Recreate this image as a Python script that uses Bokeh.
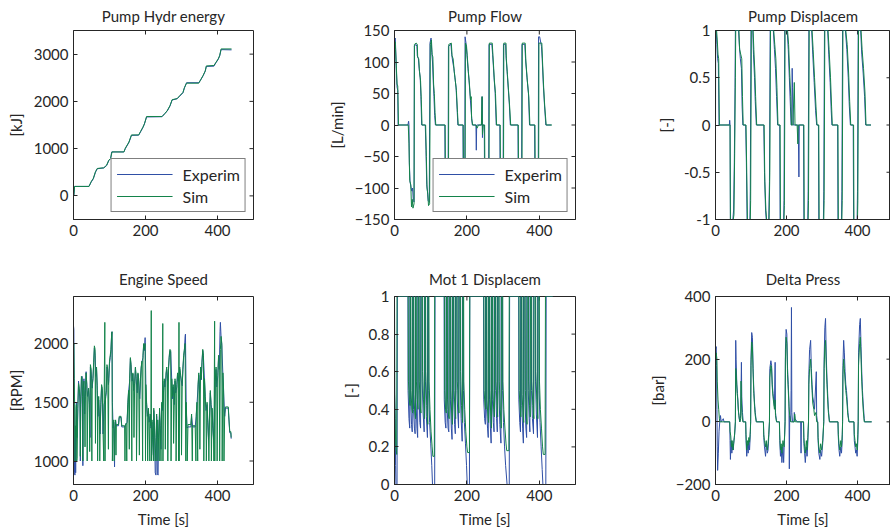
import math
from bokeh.plotting import figure
from bokeh.models import Range1d, FixedTicker, Legend, LegendItem
from bokeh.layouts import row, column
from bokeh.embed import file_html
from bokeh.resources import INLINE

# ---------------- data (time [s], value) ----------------
x_ticks = [0, 200, 400]

energy_exp = [(0,0),(1,10),(3,200),(43,200),(49,290),(55,360),(61,500),(66,575),(84,590),(92,640),(98,745),(103,785),(106,930),(140,930),(144,1000),(154,1130),(161,1280),(181,1285),(186,1350),(193,1450),(197,1520),(203,1670),(246,1675),(253,1740),(260,1790),(268,1900),(274,2030),(288,2055),(295,2110),(304,2180),(308,2280),(314,2395),(348,2395),(353,2450),(360,2540),(366,2640),(369,2740),(390,2745),(396,2820),(402,2890),(406,2960),(410,3095),(439,3090)]
energy_sim = [(0,0),(1,20),(3,200),(43,200),(49,300),(55,370),(61,510),(66,580),(84,595),(92,650),(98,755),(103,790),(107,930),(140,930),(144,1010),(154,1140),(161,1290),(181,1290),(186,1360),(193,1455),(197,1525),(203,1680),(246,1680),(253,1735),(260,1800),(268,1910),(274,2035),(288,2060),(295,2120),(304,2190),(308,2290),(314,2385),(348,2385),(353,2455),(360,2550),(366,2645),(369,2750),(390,2760),(396,2830),(402,2900),(406,2970),(410,3110),(439,3110)]

flow_exp = [(0,0),(0.3,130),(2,138),(3,125),(5,90),(7,60),(9,55),(10,0),(37,0),(39,6),(40,0),(41,-60),(43,-90),(46,-100),(48,-105),(50,-100),(52,-120),(54,-122),(55,125),(59,128),(62,125),(63,110),(66,105),(68,90),(71,75),(73,45),(75,0),(85,0),(87,-40),(89,-95),(91,-105),(93,-120),(96,-122),(98,130),(101,138),(103,115),(105,100),(107,70),(109,45),(111,15),(113,0),(139,0),(140,-110),(148,-120),(149,125),(156,128),(158,112),(161,100),(164,90),(167,75),(170,60),(173,25),(175,0),(189,0),(190,-110),(194,-120),(195,140),(198,128),(200,112),(203,90),(206,70),(209,45),(212,20),(215,0),(225,0),(226,-40),(227,0),(241,0),(242,45),(243,-20),(244,0),(248,0),(249,-110),(260,-120),(261,128),(269,128),(271,112),(273,95),(275,75),(278,52),(281,0),(291,0),(292,-110),(300,-120),(301,128),(307,128),(308,110),(311,85),(314,60),(317,35),(320,0),(341,0),(342,-110),(351,-120),(352,128),(360,128),(362,105),(366,75),(370,50),(373,0),(387,0),(388,-110),(397,-120),(398,140),(401,140),(406,125),(408,105),(411,65),(414,35),(418,0),(433,0)]
flow_sim = [(0,0),(0.5,125),(2,132),(3,120),(5,95),(7,65),(9,62),(11,0),(38,0),(40,-30),(42,-88),(45,-95),(47,-130),(49,-118),(51,-132),(54,-125),(55,128),(60,130),(63,128),(64,108),(67,105),(69,85),(72,70),(74,40),(76,0),(86,0),(88,-50),(90,-100),(92,-110),(94,-128),(97,-125),(99,128),(102,135),(104,112),(106,108),(108,65),(110,50),(112,20),(114,0),(140,0),(141,-120),(149,-125),(150,128),(157,130),(159,110),(162,105),(165,85),(168,70),(171,55),(174,20),(176,0),(190,0),(191,-120),(195,-125),(196,130),(199,125),(201,110),(204,85),(207,65),(210,40),(212,45),(213,10),(216,0),(225,0),(228,-5),(232,0),(240,0),(242,45),(243,-15),(245,0),(249,0),(250,-120),(261,-125),(262,130),(270,130),(272,110),(274,90),(276,70),(279,50),(282,0),(292,0),(293,-120),(301,-125),(302,130),(308,130),(309,105),(312,80),(315,55),(318,30),(321,0),(342,0),(343,-120),(352,-125),(353,130),(361,130),(363,100),(367,70),(371,45),(374,0),(388,0),(389,-120),(398,-125),(399,130),(407,130),(409,100),(412,60),(415,30),(419,0),(435,0)]

pdisp_exp = [(0,0),(0.3,1),(2,1),(4,0.85),(6,0.7),(8,0.65),(10,0),(39,0),(40,0.05),(41,0),(42,-1),(49,-1),(51,-0.9),(53,-0.4),(55,0.4),(56,1),(65,1),(67,0.85),(70,0.7),(73,0.6),(75,0.2),(77,0),(85,0),(87,-0.4),(89,-1),(97,-1),(98,-0.7),(100,1),(105,1),(107,0.75),(110,0.5),(112,0.25),(115,0),(136,0),(138,-0.5),(141,-0.9),(143,-1),(150,-1),(152,-0.6),(154,1),(163,1),(166,0.8),(169,0.6),(172,0.3),(175,0),(181,0),(182,-1),(192,-1),(193,-0.8),(195,1),(202,1),(205,0.8),(208,0.5),(211,0.2),(213,0),(215,0),(216,0.6),(217,0.4),(219,0),(233,0),(235,-0.55),(236,0),(248,0),(249,-1),(260,-1),(261,-0.7),(263,1),(271,1),(274,0.75),(278,0.45),(282,0.15),(285,0),(290,0),(291,-1),(304,-1),(305,-0.7),(307,1),(316,1),(319,0.75),(323,0.45),(326,0.15),(328,0),(344,0),(345,-1),(355,-1),(356,-0.7),(358,1),(366,1),(370,0.8),(374,0.5),(377,0.2),(380,0),(388,0),(389,-1),(399,-1),(400,-0.7),(402,1),(409,1),(412,0.75),(416,0.55),(420,0.3),(423,0),(438,0)]
pdisp_sim = [(0,0),(0.3,1),(3,1),(5,0.9),(7,0.75),(9,0.7),(11,0),(41,0),(42,-1),(50,-1),(52,-0.95),(54,-0.3),(56,0.5),(57,1),(66,1),(68,0.8),(71,0.75),(74,0.7),(76,0.3),(78,0),(86,0),(88,-0.5),(90,-1),(98,-1),(99,-0.8),(101,1),(106,1),(108,0.8),(111,0.55),(113,0.3),(116,0),(137,0),(139,-0.6),(142,-0.9),(144,-1),(151,-1),(153,-0.5),(155,1),(164,1),(167,0.85),(170,0.7),(173,0.4),(176,0),(182,0),(183,-1),(193,-1),(194,-0.85),(196,1),(203,1),(206,0.85),(209,0.55),(212,0.3),(214,0),(218,0),(222,0.45),(224,0),(230,0),(232,-0.2),(233,0),(249,0),(250,-1),(261,-1),(262,-0.8),(264,1),(272,1),(275,0.8),(279,0.5),(283,0.2),(286,0),(291,0),(292,-1),(305,-1),(306,-0.8),(308,1),(317,1),(320,0.8),(324,0.5),(327,0.2),(329,0),(345,0),(346,-1),(356,-1),(357,-0.8),(359,1),(367,1),(371,0.85),(375,0.55),(378,0.25),(381,0),(389,0),(390,-1),(400,-1),(401,-0.8),(403,1),(410,1),(413,0.8),(417,0.6),(421,0.35),(424,0),(438,0)]

speed_exp = [(0,2150),(1,2120),(2,1400),(3,900),(4,880),(5,1200),(6,900),(8,1500),(10,1200),(12,1450),(14,1680),(16,1600),(18,1500),(19,1000),(20,1450),(22,1700),(24,1720),(26,960),(27,1600),(29,1700),(31,1400),(33,1550),(35,1760),(37,1640),(39,1550),(42,1600),(44,1480),(46,1200),(47,1800),(49,1760),(52,1620),(54,1700),(56,1820),(58,1960),(60,1900),(62,1720),(64,1780),(66,1600),(68,1380),(70,1520),(72,1360),(74,1230),(76,1480),(78,1630),(80,1600),(82,1230),(85,1480),(89,1530),(91,1580),(93,1800),(95,1760),(97,1650),(98,1680),(100,1830),(102,1880),(104,1930),(106,2090),(107,2100),(108,1500),(110,1280),(112,1330),(114,950),(115,1260),(117,1340),(119,1300),(125,1300),(127,1370),(132,1370),(134,1290),(142,1290),(145,1310),(149,1330),(151,1480),(153,1590),(156,1680),(158,1870),(160,1800),(163,1680),(165,1740),(167,1600),(170,1660),(172,1790),(174,1700),(177,1580),(179,1740),(181,1680),(184,1530),(186,1680),(188,1790),(190,1840),(193,1880),(195,1990),(197,1940),(199,2050),(201,1640),(203,1480),(205,1380),(208,1430),(210,1330),(213,1380),(215,1280),(218,1330),(220,1180),(222,1050),(223,1430),(225,1280),(227,900),(229,880),(231,1380),(233,890),(235,880),(236,1180),(239,1430),(241,1280),(243,1100),(245,1480),(247,1430),(250,1580),(252,1680),(254,1630),(257,1730),(259,1780),(261,1680),(264,1780),(266,1880),(268,1940),(270,1930),(273,1680),(275,1530),(277,1630),(280,1480),(282,1680),(284,1580),(287,1630),(289,1730),(291,1680),(295,1780),(297,1730),(299,1690),(302,1640),(304,1780),(306,1880),(308,1940),(310,2060),(311,2080),(313,1480),(315,1280),(318,1290),(326,1290),(328,1380),(331,1290),(338,1290),(341,1380),(343,1480),(346,1630),(348,1730),(350,1580),(353,1780),(355,1690),(357,1840),(359,1940),(361,1880),(364,1680),(366,1530),(368,1430),(371,1480),(373,1330),(375,1180),(378,1380),(380,1580),(382,1480),(385,1430),(387,1280),(389,1180),(394,1680),(396,1780),(398,1630),(401,1730),(403,1880),(405,1780),(407,2100),(408,2180),(410,2050),(412,1980),(415,1730),(417,1580),(420,1380),(422,1450),(430,1450),(431,1390),(432,1340),(434,1240),(437,1240),(438,1190)]
speed_sim = [(0,1980),(1,2000),(2,1700),(3,1500),(4,1000),(5,1300),(6,1200),(7,1450),(8,1480),(9,1000),(10,1020),(12,1450),(14,1660),(16,1620),(18,1550),(19,1040),(20,1480),(22,1720),(24,1700),(25,1550),(26,1000),(27,1620),(29,1680),(31,1420),(32,1120),(33,1600),(35,1750),(37,1650),(38,1000),(40,1580),(42,1620),(44,1500),(45,1080),(47,1820),(49,1780),(51,1000),(52,1650),(54,1700),(56,1840),(58,1980),(60,1950),(61,1150),(62,1750),(64,1800),(66,1640),(67,1000),(68,1400),(70,1550),(72,1380),(73,1000),(74,1250),(76,1500),(78,1650),(80,1620),(82,1250),(84,1000),(85,1500),(87,2180),(87.5,1000),(89,1550),(91,1600),(93,1820),(95,1780),(97,1100),(98,1700),(100,1850),(102,1900),(104,1950),(106,2080),(107,2100),(108,1000),(110,1300),(112,1350),(113,1000),(115,1280),(117,1350),(118,1050),(119,1310),(125,1310),(127,1380),(132,1380),(134,1300),(142,1300),(143,1000),(144,1300),(146,1320),(148,1000),(149,1350),(151,1500),(153,1600),(155,1100),(156,1700),(158,1880),(160,1820),(162,1000),(163,1700),(165,1750),(167,1620),(168,1200),(170,1680),(172,1800),(174,1720),(175,1000),(177,1600),(179,1750),(181,1700),(183,1050),(184,1550),(186,1700),(188,1800),(190,1850),(192,1000),(193,1900),(195,2000),(197,1950),(199,2000),(200,1000),(201,1650),(203,1500),(205,1400),(206,1000),(208,1450),(210,1350),(212,1000),(213,1400),(215,1300),(216,2280),(216.5,1000),(218,1350),(220,1200),(222,1000),(223,1450),(225,1300),(227,1000),(229,1200),(231,1400),(232,1000),(234,1350),(236,1200),(238,1000),(239,1450),(241,1300),(243,1000),(245,1500),(247,1450),(248,2170),(248.5,1000),(250,1600),(252,1700),(254,1650),(255,1100),(257,1750),(259,1800),(261,1700),(262,1000),(264,1800),(266,1900),(268,1950),(270,1940),(271,1000),(273,1700),(275,1550),(277,1650),(278,1150),(280,1500),(282,1700),(284,1600),(285,1000),(287,1650),(289,1750),(291,1700),(292,1000),(293,2180),(293.5,1000),(295,1800),(297,1750),(299,1700),(300,1050),(302,1650),(304,1800),(306,1900),(308,1950),(310,2000),(312,1000),(313,1500),(315,1300),(316,1000),(318,1310),(326,1310),(328,1400),(330,1000),(331,1300),(338,1300),(340,1000),(341,1400),(343,1500),(345,1000),(346,1650),(348,1750),(350,1600),(351,1100),(353,1800),(355,1700),(357,1850),(359,1950),(361,1900),(362,1000),(364,1700),(366,1550),(368,1450),(369,1000),(371,1500),(373,1350),(375,1200),(376,1000),(378,1400),(380,1600),(382,1500),(383,1000),(385,1450),(387,1300),(389,1200),(390,1000),(392,2190),(392.5,1000),(394,1700),(396,1800),(398,1650),(399,1000),(401,1750),(403,1900),(405,1800),(406,1000),(408,1950),(410,2060),(412,2000),(413,1000),(415,1750),(417,1600),(418,1000),(420,1400),(422,1460),(430,1460),(431,1400),(432,1350),(434,1250),(437,1250),(438,1200)]

mot_exp = [(0,1),(0.5,0.48),(2,0.35),(3,0.1),(4,0),(7,0),(8,1),
 (37,1),(37.5,0.5),(40,0.35),(42,0.3),(42.5,1),(44,1),(44.5,0.45),(47,0.32),(49,0.28),(49.5,1),(52,1),(52.5,0.4),(55,0.3),(57,0.27),(57.5,1),(59,1),(59.5,0.45),(62,0.3),(64,0.25),(64.5,1),(67,1),(67.5,0.5),(70,0.33),(72,0.3),(72.5,1),(76,1),(76.5,0.55),(79,0.38),(82,0.28),(82.5,1),(85,1),(85.5,0.55),(88,0.36),(91,0.25),(91.5,1),(94,1),(94.5,0.5),(97,0.33),(100,0.22),(103,0.1),(105,0),(111,0),(112,1),
 (137,1),(137.5,0.45),(140,0.33),(142,0.3),(142.5,1),(145,1),(145.5,0.4),(148,0.3),(150,0.28),(150.5,1),(154,1),(154.5,0.45),(157,0.3),(159,0.24),(159.5,1),(163,1),(163.5,0.45),(166,0.32),(168,0.27),(168.5,1),(172,1),(172.5,0.5),(175,0.37),(177,0.3),(177.5,1),(181,1),(181.5,0.55),(184,0.35),(187,0.23),(187.5,1),(190,1),(190.5,0.5),(193,0.33),(196,0.22),(199,0.1),(201,0),(207,0),(208,1),
 (246,1),(246.5,0.45),(249,0.35),(251,0.32),(251.5,1),(254,1),(254.5,0.4),(257,0.3),(259,0.25),(259.5,1),(262,1),(262.5,0.45),(265,0.3),(267,0.22),(267.5,1),(270,1),(270.5,0.45),(273,0.33),(275,0.28),(275.5,1),(279,1),(279.5,0.5),(282,0.35),(284,0.28),(284.5,1),(288,1),(288.5,0.5),(291,0.32),(294,0.22),(294.5,1),(298,1),(298.5,0.5),(301,0.33),(304,0.2),(307,0.1),(311,0),(317,0),(318,1),
 (343,1),(343.5,0.45),(346,0.33),(348,0.28),(348.5,1),(351,1),(351.5,0.42),(354,0.3),(356,0.22),(356.5,1),(360,1),(360.5,0.45),(363,0.3),(365,0.25),(365.5,1),(369,1),(369.5,0.5),(372,0.35),(374,0.28),(374.5,1),(378,1),(378.5,0.5),(381,0.35),(384,0.27),(384.5,1),(389,1),(389.5,0.55),(392,0.37),(395,0.25),(395.5,1),(399,1),(399.5,0.5),(402,0.33),(405,0.2),(408,0.08),(410,0),(418,0),(419,1),(437,1)]
mot_sim = [(0,1),(0.5,0.5),(2,0.3),(4,0.2),(6,0.16),(7,1),
 (38,1),(38.5,0.55),(41,0.45),(43,0.42),(43.5,1),(45,1),(45.5,0.5),(48,0.4),(50,0.38),(50.5,1),(53,1),(53.5,0.48),(56,0.38),(58,0.35),(58.5,1),(60,1),(60.5,0.55),(63,0.45),(65,0.4),(65.5,1),(68,1),(68.5,0.55),(71,0.42),(73,0.38),(73.5,1),(77,1),(77.5,0.6),(80,0.45),(83,0.35),(83.5,1),(86,1),(86.5,0.6),(89,0.42),(92,0.32),(92.5,1),(95,1),(95.5,0.55),(98,0.4),(101,0.28),(104,0.2),(106,0.15),(110,0.15),(111,1),
 (138,1),(138.5,0.5),(141,0.4),(143,0.38),(143.5,1),(146,1),(146.5,0.45),(149,0.37),(151,0.35),(151.5,1),(155,1),(155.5,0.5),(158,0.38),(160,0.32),(160.5,1),(164,1),(164.5,0.5),(167,0.4),(169,0.35),(169.5,1),(173,1),(173.5,0.55),(176,0.45),(178,0.38),(178.5,1),(182,1),(182.5,0.6),(185,0.42),(188,0.33),(188.5,1),(191,1),(191.5,0.55),(194,0.4),(197,0.28),(200,0.2),(202,0.17),(207,0.17),(208,1),
 (247,1),(247.5,0.5),(250,0.42),(252,0.4),(252.5,1),(255,1),(255.5,0.45),(258,0.36),(260,0.33),(260.5,1),(263,1),(263.5,0.5),(266,0.36),(268,0.3),(268.5,1),(271,1),(271.5,0.5),(274,0.4),(276,0.36),(276.5,1),(280,1),(280.5,0.55),(283,0.42),(285,0.36),(285.5,1),(289,1),(289.5,0.55),(292,0.4),(295,0.3),(295.5,1),(299,1),(299.5,0.55),(302,0.4),(305,0.3),(308,0.22),(310,0.18),(316,0.18),(317,1),
 (344,1),(344.5,0.5),(347,0.4),(349,0.36),(349.5,1),(352,1),(352.5,0.48),(355,0.37),(357,0.33),(357.5,1),(361,1),(361.5,0.5),(364,0.38),(366,0.32),(366.5,1),(370,1),(370.5,0.55),(373,0.42),(375,0.36),(375.5,1),(379,1),(379.5,0.55),(382,0.42),(385,0.35),(385.5,1),(390,1),(390.5,0.6),(393,0.45),(396,0.35),(396.5,1),(400,1),(400.5,0.55),(403,0.4),(406,0.3),(409,0.2),(411,0.16),(416,0.16),(417,1),(437,1)]

dp_exp = [(0,0),(0.5,230),(2,240),(3,180),(4,40),(5,-80),(6,-155),(8,-100),(10,-30),(12,0),(14,20),(16,0),(22,10),(24,0),(40,0),(41,-60),(42,-120),(44,-60),(46,-100),(48,-70),(50,-90),(52,-60),(54,-40),(56,0),(57,260),(58,200),(60,120),(62,90),(64,40),(66,20),(68,0),(71,20),(73,190),(74,80),(76,30),(78,0),(85,0),(86,-60),(88,-110),(90,-70),(92,-100),(94,-60),(96,-90),(98,-40),(99,0),(100,200),(102,285),(104,270),(106,170),(108,100),(110,60),(112,30),(115,0),(135,0),(136,-50),(138,-80),(141,-110),(143,-70),(146,-100),(148,-90),(150,-50),(152,0),(153,170),(156,195),(158,180),(160,120),(162,90),(164,70),(166,50),(168,190),(169,30),(172,0),(180,0),(181,-60),(183,-110),(185,-80),(187,-130),(190,-80),(192,-130),(194,-60),(196,0),(197,230),(199,295),(201,280),(203,170),(205,120),(207,60),(208,-150),(209,20),(212,0),(213,100),(214,365),(215,30),(217,0),(221,0),(222,30),(224,10),(230,0),(240,0),(241,-100),(242,0),(248,0),(249,-70),(251,-100),(253,-130),(256,-80),(258,-110),(260,-70),(262,0),(263,150),(265,230),(268,260),(270,170),(272,120),(274,80),(277,60),(279,40),(284,160),(285,20),(287,0),(288,0),(289,-60),(291,-100),(294,-120),(296,-90),(299,-110),(302,-70),(305,0),(306,200),(308,300),(310,330),(312,210),(314,140),(316,90),(318,40),(321,0),(345,0),(346,-50),(348,-90),(350,-110),(353,-80),(355,-100),(357,-60),(358,0),(359,180),(361,260),(363,220),(365,160),(367,120),(369,100),(371,70),(373,30),(376,0),(390,0),(391,-60),(393,-80),(395,-100),(397,-90),(399,-110),(401,-60),(402,0),(403,220),(406,310),(408,330),(410,240),(412,160),(414,100),(416,60),(419,10),(420,0),(440,0)]
dp_sim = [(0,0),(0.5,190),(2,220),(4,200),(5,130),(7,70),(9,40),(11,10),(12,0),(40,0),(41,-30),(43,-45),(45,-80),(47,-60),(49,-90),(51,-70),(53,-50),(55,-20),(56,0),(57,170),(59,140),(61,90),(63,70),(65,30),(67,10),(69,0),(71,10),(72,130),(73,60),(75,20),(77,0),(85,0),(86,-40),(88,-90),(90,-60),(92,-75),(94,-50),(96,-65),(98,-30),(99,0),(100,180),(102,255),(104,240),(106,150),(108,90),(110,50),(112,20),(115,0),(135,0),(136,-40),(138,-60),(141,-80),(143,-60),(146,-90),(148,-70),(150,-40),(152,0),(153,140),(156,180),(158,170),(160,110),(162,80),(164,60),(166,40),(168,70),(169,20),(172,0),(180,0),(181,-40),(183,-90),(185,-70),(187,-100),(190,-60),(193,-80),(195,-40),(196,0),(197,200),(199,270),(201,250),(203,150),(205,100),(207,50),(209,20),(212,0),(222,0),(223,25),(225,0),(248,0),(249,-50),(251,-80),(253,-100),(256,-60),(258,-90),(260,-50),(262,0),(263,120),(265,170),(268,200),(270,150),(272,100),(274,60),(277,40),(279,20),(283,30),(285,0),(288,0),(289,-50),(291,-80),(294,-100),(296,-70),(299,-90),(302,-60),(305,0),(306,170),(308,240),(310,260),(312,180),(314,120),(316,70),(318,30),(321,0),(345,0),(346,-40),(348,-70),(350,-90),(353,-60),(355,-80),(357,-40),(358,0),(359,150),(361,200),(363,170),(365,130),(367,100),(369,80),(371,50),(373,20),(376,0),(390,0),(391,-40),(393,-60),(395,-80),(397,-70),(399,-90),(401,-40),(402,0),(403,180),(406,250),(408,270),(410,200),(412,130),(414,80),(416,40),(419,0),(440,0)]

energy_ticks = [0, 1000, 2000, 3000]
flow_ticks = [-150, -100, -50, 0, 50, 100, 150]
pdisp_ticks = [-1, -0.5, 0, 0.5, 1]
pdisp_labels = ["-1", "-0.5", "0", "0.5", "1"]
speed_ticks = [1000, 1500, 2000]
mot_ticks = [0, 0.2, 0.4, 0.6, 0.8, 1]
mot_labels = ["0", "0.2", "0.4", "0.6", "0.8", "1"]
dp_ticks = [-200, 0, 200, 400]

# ---------------- styling ----------------
FONT = "Lato"
TXT = "#262626"
BLUE = "#2f4fa6"
GREEN = "#13834a"


def style_axis(ax, ticks, labels=None):
    ax.ticker = FixedTicker(ticks=ticks)
    ax.major_tick_in = 4
    ax.major_tick_out = 0
    ax.minor_tick_line_color = None
    ax.axis_line_color = TXT
    ax.major_tick_line_color = TXT
    ax.major_label_text_font = FONT
    ax.major_label_text_color = TXT
    ax.major_label_text_font_size = "15px"
    ax.major_label_standoff = 5
    ax.axis_label_text_font = FONT
    ax.axis_label_text_font_style = "normal"
    ax.axis_label_text_font_size = "15px"
    ax.axis_label_text_color = TXT
    if labels is not None:
        ax.major_label_overrides = {t: l for t, l in zip(ticks, labels)}


def build(title, ylabel, exp, sim, yr, yticks, ylabels=None, col=0, bottom_row=False, legend=False):
    frame_w = [180, 181, 175][col]
    x_end = [500, 500, 493][col]
    mbl = [73, 131, 130][col]
    mbr = [10, 10, 0][col]
    if bottom_row:
        fh, mbt, mbb, t_stand = 188, 42, 45, 15
    else:
        fh, mbt, mbb, t_stand = 189, 30, 35, 9
    p = figure(output_backend="svg", toolbar_location=None,
               frame_width=frame_w, frame_height=fh,
               x_range=Range1d(0, x_end), y_range=Range1d(*yr),
               min_border_left=mbl, min_border_right=mbr,
               min_border_top=mbt, min_border_bottom=mbb,
               background_fill_color="white", border_fill_color="white")
    p.grid.visible = False
    p.outline_line_color = TXT
    p.title.text = title
    p.title.text_font = FONT
    p.title.text_font_size = "15px"
    p.title.text_font_style = "normal"
    p.title.text_color = TXT
    p.title.align = "center"
    p.title.vertical_align = "middle"
    p.title.standoff = t_stand

    xa = p.below[0]
    ya = p.left[0]
    style_axis(xa, x_ticks)
    style_axis(ya, yticks, ylabels)
    ya.axis_label = ylabel
    ya.axis_label_standoff = 6
    if bottom_row:
        xa.axis_label = "Time [s]"
        xa.axis_label_standoff = 6
        xa.major_label_standoff = 5

    # inward tick marks on the top and right edges of the box (MATLAB "box on")
    p.ray(x=x_ticks, y=[yr[1]] * len(x_ticks), length=4, length_units="screen",
          angle=-math.pi / 2, color=TXT, line_width=1)
    p.ray(x=[x_end] * len(yticks), y=yticks, length=4, length_units="screen",
          angle=math.pi, color=TXT, line_width=1)

    rb = p.line([a for a, _ in exp], [b for _, b in exp], color=BLUE, line_width=1)
    rg = p.line([a for a, _ in sim], [b for _, b in sim], color=GREEN, line_width=1)

    if legend:
        lg = Legend(items=[LegendItem(label="Experim", renderers=[rb]),
                           LegendItem(label="Sim", renderers=[rg])],
                    location="bottom_right", margin=7, padding=5, spacing=2,
                    glyph_width=56, glyph_height=20, label_height=20,
                    label_standoff=10, label_text_font=FONT,
                    label_text_font_size="16px", label_text_color=TXT,
                    border_line_color="black", border_line_width=1,
                    background_fill_color="white", background_fill_alpha=1.0)
        p.add_layout(lg)
    return p


f1 = build("Pump Hydr energy", "[kJ]", energy_exp, energy_sim, (-500, 3500), energy_ticks, col=0, legend=True)
f2 = build("Pump Flow", "[L/min]", flow_exp, flow_sim, (-150, 150), flow_ticks, col=1, legend=True)
f3 = build("Pump Displacem", "[-]", pdisp_exp, pdisp_sim, (-1, 1), pdisp_ticks, pdisp_labels, col=2)
f4 = build("Engine Speed", "[RPM]", speed_exp, speed_sim, (800, 2400), speed_ticks, col=0, bottom_row=True)
f5 = build("Mot 1 Displacem", "[-]", mot_exp, mot_sim, (0, 1), mot_ticks, mot_labels, col=1, bottom_row=True)
f6 = build("Delta Press", "[bar]", dp_exp, dp_sim, (-200, 400), dp_ticks, col=2, bottom_row=True)

layout = column(row(f1, f2, f3, spacing=0), row(f4, f5, f6, spacing=0), spacing=0)

open("out.html", "w").write(file_html(layout, INLINE))
